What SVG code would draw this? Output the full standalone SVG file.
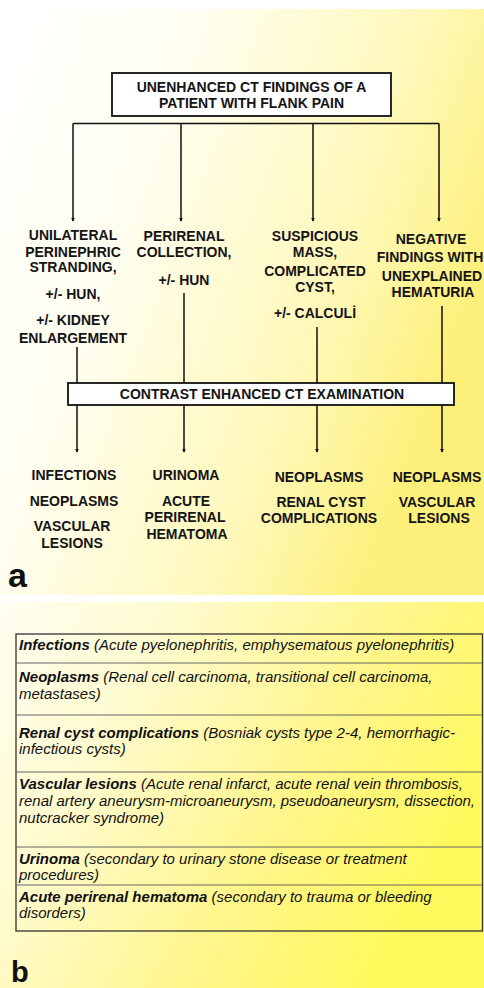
<svg xmlns="http://www.w3.org/2000/svg" width="484" height="988" viewBox="0 0 484 988">
<defs>
<linearGradient id="ga" x1="0" y1="0" x2="1" y2="0.45">
<stop offset="0" stop-color="#ffffff"/>
<stop offset="0.35" stop-color="#fffef0"/>
<stop offset="0.75" stop-color="#fff8b8"/>
<stop offset="1" stop-color="#fdf07a"/>
</linearGradient>
<linearGradient id="gb" x1="0" y1="0" x2="1" y2="0.45">
<stop offset="0" stop-color="#fffef2"/>
<stop offset="0.3" stop-color="#fffbd0"/>
<stop offset="0.7" stop-color="#fff68a"/>
<stop offset="1" stop-color="#fff95e"/>
</linearGradient>
<marker id="arr" viewBox="0 0 6 6" refX="5" refY="3" markerWidth="4" markerHeight="4" orient="auto" markerUnits="userSpaceOnUse">
<path d="M0,0 L6,3 L0,6 Z" fill="#111"/>
</marker>
<style>
.t{font-family:"Liberation Sans",Arial,sans-serif;font-weight:bold;font-size:14px;fill:#141414;text-anchor:middle}
.box{fill:#ffffff;stroke:#111;stroke-width:1.8}
.ln{stroke:#111;stroke-width:1.5;fill:none}
.tb{font-family:"Liberation Sans",Arial,sans-serif;font-style:italic;font-size:15px;fill:#111}
.tb tspan.h{font-weight:bold}
.rl{stroke:#666;stroke-width:1}
.lab{font-family:"Liberation Sans",Arial,sans-serif;font-weight:bold;fill:#111}
</style>
</defs>
<rect x="0" y="0" width="484" height="988" fill="#ffffff"/>
<rect x="0" y="9" width="484" height="586" fill="url(#ga)"/>
<rect x="0" y="602" width="484" height="386" fill="url(#gb)"/>

<g id="connectors">
<path class="ln" d="M73,123.5 H439"/>
<path class="ln" d="M73,123.5 V221" marker-end="url(#arr)"/>
<path class="ln" d="M181,123.5 V221" marker-end="url(#arr)"/>
<path class="ln" d="M313,123.5 V221" marker-end="url(#arr)"/>
<path class="ln" d="M439,123.5 V221" marker-end="url(#arr)"/>
<path class="ln" d="M77,347 V383"/>
<path class="ln" d="M184,293 V383"/>
<path class="ln" d="M317,327 V383"/>
<path class="ln" d="M442,306 V383"/>
<path class="ln" d="M77,405 V452" marker-end="url(#arr)"/>
<path class="ln" d="M184,405 V452" marker-end="url(#arr)"/>
<path class="ln" d="M317,405 V452" marker-end="url(#arr)"/>
<path class="ln" d="M442,405 V452" marker-end="url(#arr)"/>
</g>

<g id="top">
<rect class="box" x="112" y="73" width="279" height="43"/>
<text class="t" x="251.5" y="92">UNENHANCED CT FINDINGS OF A</text>
<text class="t" x="251.5" y="108">PATIENT WITH FLANK PAIN</text>
</g>

<g id="f1">
<text class="t" x="73" y="240">UNILATERAL</text>
<text class="t" x="73" y="257">PERINEPHRIC</text>
<text class="t" x="73" y="272">STRANDING,</text>
<text class="t" x="73" y="299">+/- HUN,</text>
<text class="t" x="73" y="325">+/- KIDNEY</text>
<text class="t" x="73" y="343">ENLARGEMENT</text>
</g>
<g id="f2">
<text class="t" x="184" y="241">PERIRENAL</text>
<text class="t" x="184" y="257">COLLECTION,</text>
<text class="t" x="184" y="285">+/- HUN</text>
</g>
<g id="f3">
<text class="t" x="315" y="241">SUSPICIOUS</text>
<text class="t" x="315" y="257">MASS,</text>
<text class="t" x="315" y="276">COMPLICATED</text>
<text class="t" x="315" y="292">CYST,</text>
<text class="t" x="315" y="318">+/- CALCULİ</text>
</g>
<g id="f4">
<text class="t" x="431" y="244">NEGATIVE</text>
<text class="t" x="430" y="262">FINDINGS WITH</text>
<text class="t" x="432" y="281">UNEXPLAINED</text>
<text class="t" x="433" y="297">HEMATURIA</text>
</g>

<g id="contrast">
<rect class="box" x="68" y="383" width="386" height="22"/>
<text class="t" x="262" y="399">CONTRAST ENHANCED CT EXAMINATION</text>
</g>

<g id="r1">
<text class="t" x="74" y="480">INFECTIONS</text>
<text class="t" x="74" y="506">NEOPLASMS</text>
<text class="t" x="72" y="531">VASCULAR</text>
<text class="t" x="72" y="548">LESIONS</text>
</g>
<g id="r2">
<text class="t" x="186" y="480">URINOMA</text>
<text class="t" x="186" y="506">ACUTE</text>
<text class="t" x="185" y="522">PERIRENAL</text>
<text class="t" x="187" y="539">HEMATOMA</text>
</g>
<g id="r3">
<text class="t" x="319" y="482">NEOPLASMS</text>
<text class="t" x="321" y="507">RENAL CYST</text>
<text class="t" x="319" y="523">COMPLICATIONS</text>
</g>
<g id="r4">
<text class="t" x="437" y="482">NEOPLASMS</text>
<text class="t" x="437" y="507">VASCULAR</text>
<text class="t" x="439" y="523">LESIONS</text>
</g>

<text class="lab" x="8" y="587" font-size="34">a</text>

<g id="table">
<rect x="16" y="634" width="466.5" height="297" fill="none" stroke="#333" stroke-width="1.3"/>
<line class="rl" x1="16" y1="663" x2="482.5" y2="663"/>
<line class="rl" x1="16" y1="715" x2="482.5" y2="715"/>
<line class="rl" x1="16" y1="772" x2="482.5" y2="772"/>
<line class="rl" x1="16" y1="847" x2="482.5" y2="847"/>
<line class="rl" x1="16" y1="885" x2="482.5" y2="885"/>
<text class="tb" x="19" y="650"><tspan class="h">Infections</tspan> (Acute pyelonephritis, emphysematous pyelonephritis)</text>
<text class="tb" x="19" y="682"><tspan class="h">Neoplasms</tspan> (Renal cell carcinoma, transitional cell carcinoma,</text>
<text class="tb" x="19" y="699">metastases)</text>
<text class="tb" x="19" y="737.5"><tspan class="h">Renal cyst complications</tspan> (Bosniak cysts type 2-4, hemorrhagic-</text>
<text class="tb" x="19" y="754">infectious cysts)</text>
<text class="tb" x="19" y="789"><tspan class="h">Vascular lesions</tspan> (Acute renal infarct, acute renal vein thrombosis,</text>
<text class="tb" x="19" y="806">renal artery aneurysm-microaneurysm, pseudoaneurysm, dissection,</text>
<text class="tb" x="19" y="823">nutcracker syndrome)</text>
<text class="tb" x="19" y="863.5"><tspan class="h">Urinoma</tspan> (secondary to urinary stone disease or treatment</text>
<text class="tb" x="19" y="880">procedures)</text>
<text class="tb" x="19" y="901.5"><tspan class="h">Acute perirenal hematoma</tspan> (secondary to trauma or bleeding</text>
<text class="tb" x="19" y="918">disorders)</text>
</g>

<text class="lab" x="11" y="982" font-size="29">b</text>
</svg>
